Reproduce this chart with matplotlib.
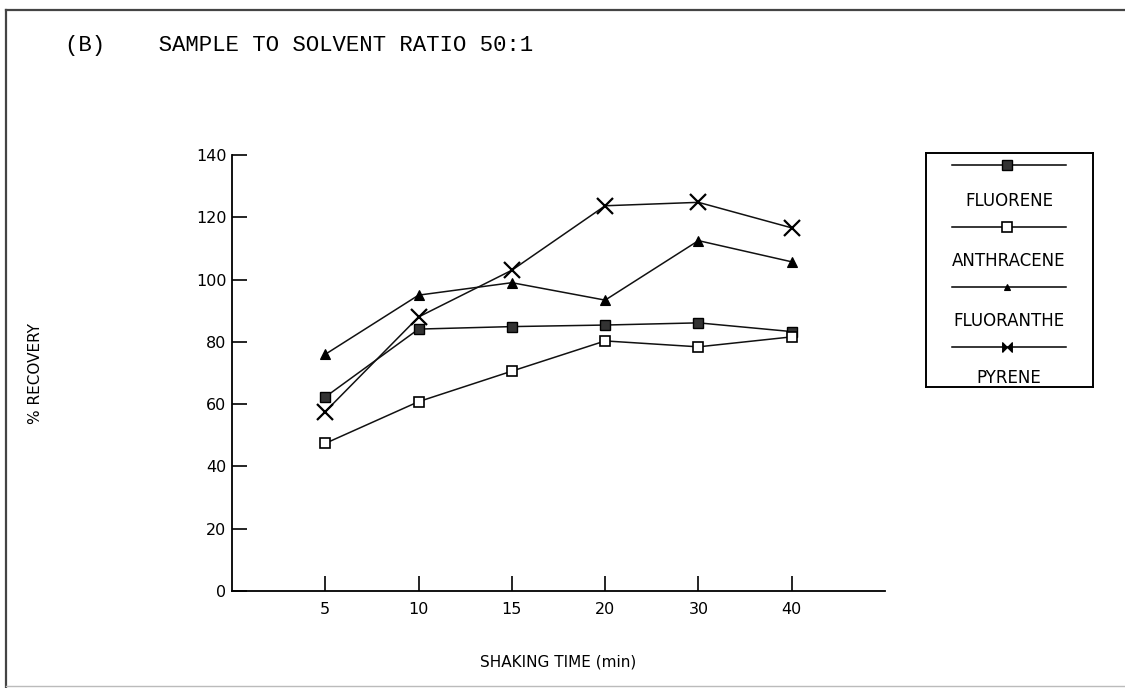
import matplotlib.pyplot as plt
from matplotlib.lines import Line2D
import numpy as np

# data
times = ["5", "10", "15", "20", "30", "40"]
fluorene = [62.3, 84.1, 84.9, 85.4, 86.1, 83.3]
anthracene = [47.4, 60.8, 70.6, 80.3, 78.4, 81.6]
fluoranthene = [76.0, 95.0, 99.0, 93.4, 112.5, 105.7]
pyrene = [57.6, 88.0, 103.0, 123.7, 124.8, 116.6]
names = ["FLUORENE", "ANTHRACENE", "FLUORANTHE", "PYRENE"]

plt.rcParams["font.family"] = "DejaVu Sans"
fig = plt.figure(figsize=(11.25, 6.88), dpi=100)

ax = fig.add_axes([232/1125, 1-591/688, (885-232)/1125, (591-155)/688])
x = np.arange(1, len(times) + 1)

bowtie = [(-1, -1), (-1, 1), (1, -1), (1, 1), (-1, -1)]
styles = [
    dict(marker="s", ms=6.5, mfc="#333333", mec="black", mew=1.0),
    dict(marker="s", ms=7, mfc="white", mec="black", mew=1.2),
    dict(marker="^", ms=6.5, mfc="black", mec="black", mew=0.8),
    dict(marker="x", ms=11, mec="black", mew=1.6),
]
series = [fluorene, anthracene, fluoranthene, pyrene]
for vals, st in zip(series, styles):
    ax.plot(x, vals, color="#111111", lw=1.1, **st)

ax.set_xlim(0, 7)
ax.set_ylim(0, 140)
ax.set_xticks(x)
ax.set_xticklabels(times)
ax.set_yticks(np.arange(0, 141, 20))
ax.spines["top"].set_visible(False)
ax.spines["right"].set_visible(False)
ax.spines["left"].set_linewidth(1.3)
ax.spines["bottom"].set_linewidth(1.3)
ax.tick_params(direction="in", length=11, width=1.2, labelsize=11.5, pad=8)
ax.tick_params(axis="y", pad=4)
ax.set_xlabel("SHAKING TIME (min)", fontsize=11, labelpad=27)

fig.text(35/1125, 1-374/688, "% RECOVERY", rotation=90, fontsize=11,
         ha="center", va="center")
fig.text(65/1125, 1-45/688, "(B)    SAMPLE TO SOLVENT RATIO 50:1",
         family="Liberation Mono", fontsize=16.1, ha="left", va="center")

# legend box: sample line above each label
lg = fig.add_axes([926/1125, 1-387/688, (1093-926)/1125, (387-153)/688])
lg.set_xlim(926, 1093)
lg.set_ylim(387, 153)
lg.set_xticks([])
lg.set_yticks([])
for s in lg.spines.values():
    s.set_linewidth(1.4)
line_y = [165, 227, 287, 347]
text_y = [201, 261, 321, 378]
leg_styles = [styles[0], styles[1], dict(styles[2], ms=5), dict(marker=bowtie, ms=7, mfc="black", mec="black", mew=0.8)]
for name, ly, ty, st in zip(names, line_y, text_y, leg_styles):
    lg.add_line(Line2D([952, 1066], [ly, ly], color="black", lw=1.1))
    lg.plot([1007], [ly], color="black", **st)
    lg.text(1009, ty, name, fontsize=12, ha="center", va="center")

# scan frame
fig.add_artist(Line2D([6/1125, 6/1125], [0, 1-10/688], color="#444444", lw=1.6))
fig.add_artist(Line2D([6/1125, 1], [1-10/688, 1-10/688], color="#444444", lw=1.6))
fig.add_artist(Line2D([6/1125, 1], [1-686/688, 1-686/688], color="#bbbbbb", lw=1.0))

fig.savefig("out.png", dpi=100)
